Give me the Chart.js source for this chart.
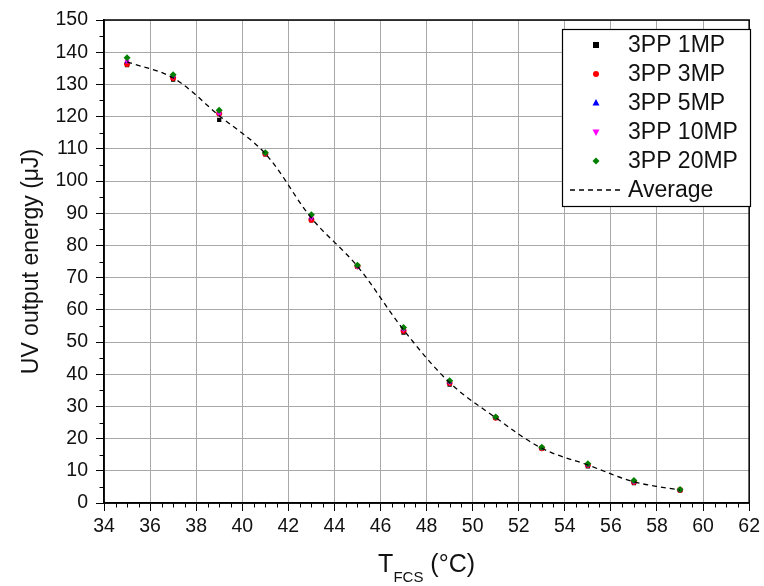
<!DOCTYPE html>
<html><head><meta charset="utf-8">
<script src="https://cdn.jsdelivr.net/npm/chart.js@4/dist/chart.umd.min.js"></script>
<style>html,body{margin:0;padding:0;background:#fff}#wrap{width:764px;height:586px}</style>
</head><body><div id="wrap"><canvas id="c" width="764" height="586"></canvas></div>
<script>
const temps = [35,37,39,41,43,45,47,49,51,53,55,57,59];
const mp1  = [136,131.5,119,108.3,87.8,73.4,52.9,36.8,26.4,17,11.4,6.2,3.9];
const mp3  = [136.3,132,121,108.5,88,73.5,53.5,37.3,26.5,17,11.8,6.5,4];
const mp5  = [137,132.5,121.2,108.7,88.6,73.6,54,37.5,26.6,17.1,11.8,6.6,4];
const mp10 = [137.2,132.3,120.8,108.5,88.5,73.3,53.8,37.4,26.5,17,11.8,6.5,4];
const mp20 = [138.3,133,122,108.8,89.5,73.8,54.5,38,26.7,17.3,12.2,7,4.2];
const avg  = [137,132,120.3,108.5,88.5,73.5,53.8,37.4,26.5,17,11.8,6.6,4];
const xTicks = [34,36,38,40,42,44,46,48,50,52,54,56,58,60,62];
const yTicks = [0,10,20,30,40,50,60,70,80,90,100,110,120,130,140,150];
const seriesLabels = ['3PP 1MP','3PP 3MP','3PP 5MP','3PP 10MP','3PP 20MP','Average'];
const colors = ['#000000','#ff0000','#0000ff','#ff00ff','#008000','#000000'];
const styles = ['rect','circle','triangle','triangleDown','rectRot','line'];

const FONT = '"Liberation Sans", Arial, sans-serif';
const pts = arr => temps.map((t,i)=>({x:t,y:arr[i]}));
function mk(i, arr, ord){
  const st = styles[i];
  return {label:seriesLabels[i], data:pts(arr), backgroundColor:colors[i], borderColor:colors[i],
    pointStyle: st==='triangleDown'?'triangle':st, rotation: st==='triangleDown'?180:0,
    pointRadius: st==='rectRot'?3.5:3, pointBorderWidth:0, showLine:false, order:ord};
}
const datasets = [
  mk(0,mp1,5), mk(1,mp3,4), mk(2,mp5,3), mk(3,mp10,2), mk(4,mp20,1),
  {label:seriesLabels[5], data:pts(avg), type:'line', showLine:true, borderColor:'#000', borderWidth:1.3,
   borderDash:[5,4], pointRadius:0, fill:false, tension:0.35, order:0}
];

function marker(ctx, st, x, y, color){
  ctx.save(); ctx.fillStyle=color; ctx.beginPath();
  const r=3;
  if(st==='rect'){ctx.rect(x-r,y-r,2*r,2*r);}
  else if(st==='circle'){ctx.arc(x,y,r,0,Math.PI*2);}
  else if(st==='triangle'){ctx.moveTo(x,y-r-1);ctx.lineTo(x+r+0.5,y+r-0.5);ctx.lineTo(x-r-0.5,y+r-0.5);ctx.closePath();}
  else if(st==='triangleDown'){ctx.moveTo(x,y+r+1);ctx.lineTo(x+r+0.5,y-r+0.5);ctx.lineTo(x-r-0.5,y-r+0.5);ctx.closePath();}
  else if(st==='rectRot'){ctx.moveTo(x,y-r-0.5);ctx.lineTo(x+r+0.5,y);ctx.lineTo(x,y+r+0.5);ctx.lineTo(x-r-0.5,y);ctx.closePath();}
  ctx.fill(); ctx.restore();
}

const deco = {
  id:'deco',
  afterDraw(chart){
    const ctx=chart.ctx, a=chart.chartArea, xs=chart.scales.x, ys=chart.scales.y;
    ctx.save();
    // frame
    ctx.strokeStyle='#000'; ctx.lineWidth=1.5;
    ctx.strokeRect(a.left,a.top,a.right-a.left,a.bottom-a.top);
    // minor ticks
    ctx.lineWidth=1; ctx.beginPath();
    for(let v=xTicks[0]; v<=xTicks[xTicks.length-1]; v+=0.5){
      if(Math.abs(v-Math.round(v/2)*2)<1e-6) continue;
      const px=Math.round(xs.getPixelForValue(v))+0.5;
      ctx.moveTo(px,a.bottom); ctx.lineTo(px,a.bottom+4.5);
    }
    for(let v=5; v<150; v+=10){
      const py=Math.round(ys.getPixelForValue(v))+0.5;
      ctx.moveTo(a.left,py); ctx.lineTo(a.left-4.5,py);
    }
    ctx.stroke();
    // y title
    ctx.fillStyle='#111'; ctx.font='23px '+FONT; ctx.textAlign='center'; ctx.textBaseline='middle';
    ctx.save(); ctx.translate(32,(a.top+a.bottom)/2); ctx.rotate(-Math.PI/2);
    ctx.fillText('UV output energy (μJ)',0,0); ctx.restore();
    // x title with subscript
    ctx.textAlign='left'; ctx.textBaseline='alphabetic';
    const p1='T', p2='FCS', p3=' (°C)';
    ctx.font='25px '+FONT; const w1=ctx.measureText(p1).width, w3=ctx.measureText(p3).width;
    ctx.font='15px '+FONT; const w2=ctx.measureText(p2).width;
    let x0=(a.left+a.right)/2 - (w1+w2+w3)/2, yb=572;
    ctx.font='25px '+FONT; ctx.fillText(p1,x0,yb);
    ctx.font='15px '+FONT; ctx.fillText(p2,x0+w1,yb+10);
    ctx.font='25px '+FONT; ctx.fillText(p3,x0+w1+w2,yb);
    // legend
    const L=562,T=29,R=750,B=206;
    ctx.fillStyle='#fff'; ctx.fillRect(L,T,R-L,B-T);
    ctx.strokeStyle='#000'; ctx.lineWidth=1.2; ctx.strokeRect(L+0.5,T+0.5,R-L,B-T);
    ctx.font='23px '+FONT; ctx.textBaseline='middle'; ctx.textAlign='left';
    chart.data.datasets.forEach((ds,i)=>{
      const y=T+16+i*29;
      if(styles[i]==='line'){
        ctx.save(); ctx.strokeStyle='#000'; ctx.lineWidth=1.3; ctx.setLineDash([5,4]);
        ctx.beginPath(); ctx.moveTo(570,y); ctx.lineTo(622,y); ctx.stroke(); ctx.restore();
      } else marker(ctx, styles[i], 596, y, colors[i]);
      ctx.fillStyle='#111'; ctx.fillText(ds.label, 628, y+1);
    });
    ctx.restore();
  }
};

new Chart(document.getElementById('c'), {
  type:'scatter',
  data:{datasets},
  options:{
    responsive:false, animation:false, devicePixelRatio:1,
    layout:{padding:{top:20,right:10,left:0,bottom:0}},
    plugins:{legend:{display:false}, tooltip:{enabled:false}},
    scales:{
      x:{type:'linear', min:34, max:62, afterFit(s){s.height=83;},
        afterBuildTicks(s){s.ticks=xTicks.map(v=>({value:v}));},
        grid:{color:'#a8a8a8', lineWidth:1, tickColor:'#000', tickLength:8, drawOnChartArea:true},
        border:{display:true,color:'#000',width:1.5},
        ticks:{color:'#111', font:{size:19.5,family:FONT}, padding:4, maxRotation:0, autoSkip:false}},
      y:{type:'linear', min:0, max:150, afterFit(s){s.width=104;},
        afterBuildTicks(s){s.ticks=yTicks.map(v=>({value:v}));},
        grid:{color:'#a8a8a8', lineWidth:1, tickColor:'#000', tickLength:8},
        border:{display:true,color:'#000',width:1.5},
        ticks:{color:'#111', font:{size:19.5,family:FONT}, padding:8, autoSkip:false}}
    }
  },
  plugins:[deco]
});
</script></body></html>
